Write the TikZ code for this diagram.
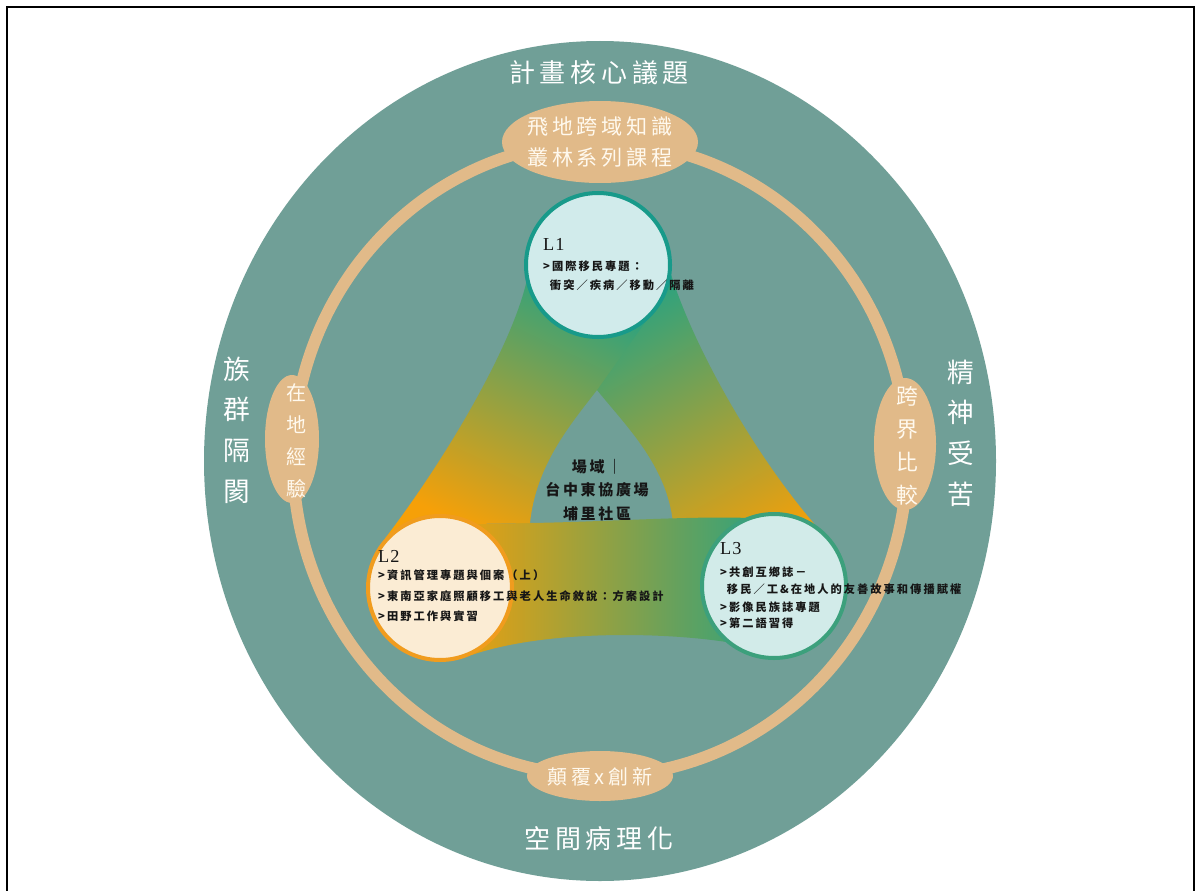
\documentclass[tikz,border=0pt]{standalone}
\usepackage{fontspec}
\setmainfont{Liberation Serif}
\newfontfamily\cjk{Noto Sans CJK TC}[LetterSpace=18]
\newfontfamily\cjkp{Noto Sans CJK TC}
\newfontfamily\cjkb{Noto Sans CJK TC}[LetterSpace=18]
\newfontfamily\latl{Liberation Serif}[LetterSpace=6]
\usetikzlibrary{shapes.geometric,positioning}
\definecolor{bgteal}{RGB}{112,159,151}
\definecolor{ringtan}{RGB}{225,186,137}
\definecolor{ovaltxt}{RGB}{255,249,238}
\definecolor{ink}{RGB}{22,22,22}
\definecolor{bandgreen}{RGB}{42,162,128}
\definecolor{bandorange}{RGB}{246,160,8}
\definecolor{oneedge}{RGB}{24,154,138}
\definecolor{onefill}{RGB}{209,235,235}
\definecolor{twoedge}{RGB}{240,156,30}
\definecolor{twofill}{RGB}{251,236,212}
\definecolor{threeedge}{RGB}{60,160,124}
\definecolor{threefill}{RGB}{210,235,233}
\pgfdeclarelayer{back}
\pgfdeclarelayer{mid}
\pgfsetlayers{back,mid,main}

\begin{document}
\begin{tikzpicture}[x=0.5mm,y=-0.5mm,
  oval/.style={ellipse,fill=ringtan,inner sep=0},
  lvl/.style={circle,minimum size=72mm,inner sep=0,line width=5.7pt},
  ctext/.style={anchor=west,inner sep=0,text=ink,font=\cjkb\bfseries\fontsize{16}{16}\selectfont},
  clab/.style={anchor=west,inner sep=0,text=ink,font=\latl\fontsize{26}{26}\selectfont},
  title/.style={inner sep=0,text=white,font=\cjk\fontsize{37}{37}\selectfont},
  side/.style={inner sep=0,text=white,align=center,font=\cjkp\fontsize{38}{58}\selectfont},
  ovtext/.style={inner sep=0,text=ovaltxt,align=center}]
\useasboundingbox (0,0) rectangle (1200,891);
\begin{pgfonlayer}{back}
\fill[white] (0,0) rectangle (1200,891);
\draw[line width=2.8pt] (7,891) -- (7,7) -- (1194,7) -- (1194,891);
\fill[bgteal] (600,461) ellipse [x radius=396, y radius=420];
\draw[ringtan,line width=17pt] (600,459) ellipse [x radius=307, y radius=317];
\node[oval,minimum width=98mm,minimum height=41mm] (ovtop) at (600,142) {};
\node[oval,minimum width=27mm,minimum height=64mm] (ovleft) at (292,439) {};
\node[oval,minimum width=31mm,minimum height=66mm] (ovright) at (905,444) {};
\node[oval,minimum width=73mm,minimum height=25mm] (ovbot) at (600,776) {};
\end{pgfonlayer}

\node[title] (core) at (599,73) {計畫核心議題};
\node[title] (space) at (599,839) {空間病理化};
\node[side] (ethnic) at (237,430) {族\\群\\隔\\閡};
\node[side] (mental) at (961,433) {精\\神\\受\\苦};
\node[ovtext,font=\cjk\fontsize{30}{44}\selectfont] (tforest) at (ovtop) {飛地跨域知識\\叢林系列課程};
\node[ovtext,font=\cjkp\fontsize{28.5}{45.5}\selectfont] (tlocal) at (297,441) {在\\地\\經\\驗};
\node[ovtext,font=\cjkp\fontsize{31}{47}\selectfont] (tcross) at (907,446) {跨\\界\\比\\較};
\node[ovtext,font=\cjk\fontsize{28.5}{28.5}\selectfont] (tnew) at (600,777) {顛覆x創新};

\node[lvl,draw=oneedge,fill=onefill] (l1) at (598,265) {};
\node[lvl,draw=twoedge,fill=twofill] (l2) at (440,588) {};
\node[lvl,draw=threeedge,fill=threefill] (l3) at (774,586) {};
\coordinate (apex) at (597,390); \coordinate (tl) at (530,523); \coordinate (tr) at (673,523);

\begin{pgfonlayer}{mid}
\shade[top color=bandgreen,bottom color=bandorange,shading angle=29] (l1.352) .. controls (695,350) and (755,455) .. (l3.57) -- (l3.center) -- (tr) .. controls (667,465) and (625,425) .. (apex) -- (l1.240) -- cycle;
\shade[left color=bandorange,right color=bandgreen] (l2.60) -- (tl) .. controls (600,522) and (690,516) .. (l3.113) -- (l3.center) -- (l3.229) .. controls (660,632) and (545,630) .. (l2.295) -- (l2.center) -- cycle;
\shade[top color=bandgreen,bottom color=bandorange,shading angle=-26] (l1.194) .. controls (510,350) and (445,460) .. (l2.138) -- (l2.60) -- (tl) .. controls (536,465) and (570,425) .. (apex) -- (l1.310) -- (l1.center) -- cycle;
\end{pgfonlayer}

\node[inner sep=0,text=ink,align=center,font=\cjk\bfseries\fontsize{21.3}{33.4}\selectfont] (place) at (597,490) {場域｜\\台中東協廣場\\埔里社區};

\node[clab] (lab1) at (543,244) {L1};
\foreach \y/\t [count=\i] in {266/{>國際移民專題：},285/{\phantom{>}衝突／疾病／移動／隔離}}
  \node[ctext] (a\i) at (543,\y) {\t};
\node[clab] (lab2) at (378,556) {L2};
\foreach \y/\t [count=\i] in {575/{>資訊管理專題與個案（上）},596/{>東南亞家庭照顧移工與老人生命敘說：方案設計},616/{>田野工作與實習}}
  \node[ctext] (b\i) at (378,\y) {\t};
\node[clab] (lab3) at (720,549) {L3};
\foreach \y/\t [count=\i] in {572/{>共創互鄉誌－},589/{\phantom{>}移民／工\&在地人的友善故事和傳播賦權},607/{>影像民族誌專題},623/{>第二語習得}}
  \node[ctext] (c\i) at (720,\y) {\t};
\end{tikzpicture}
\end{document}
